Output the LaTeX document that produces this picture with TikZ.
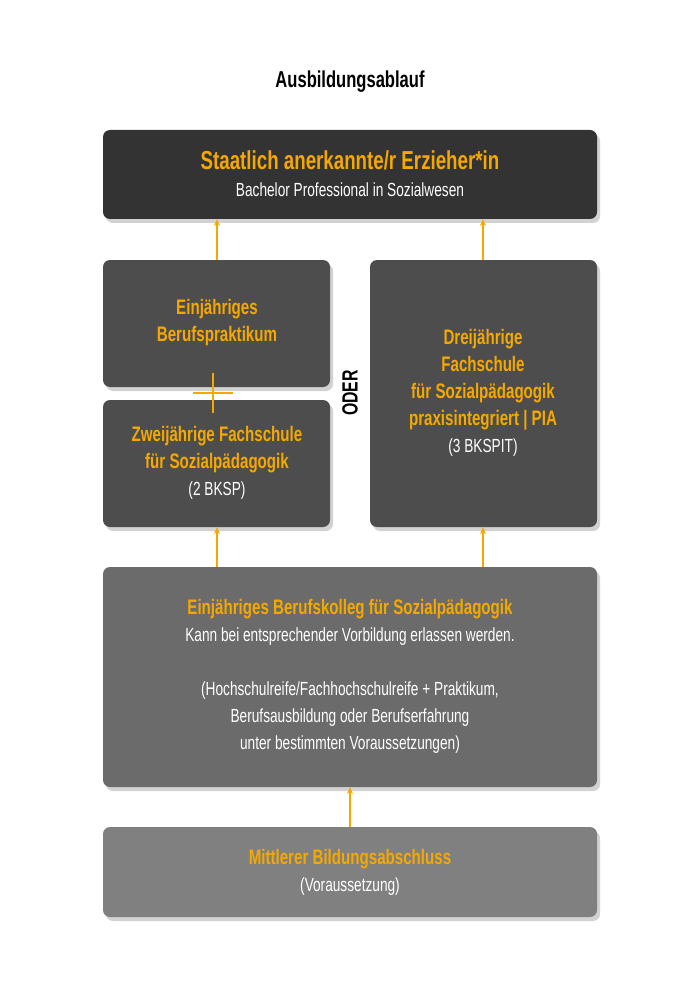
\documentclass[tikz,border=0pt]{standalone}
\usepackage{fontspec}
\setmainfont[FakeStretch=0.72]{Liberation Sans}
\usetikzlibrary{shadows,arrows.meta}
\definecolor{ylw}{HTML}{F5A800}
\newcommand{\hb}[1]{{\fontsize{21}{29}\selectfont\bfseries\color{ylw}#1}}
\tikzset{
  box/.style={rounded corners=7pt,draw=none,
    drop shadow={shadow xshift=3pt,shadow yshift=-4pt,opacity=0.35}},
  txt/.style={align=center,text=white},
  arr/.style={draw=ylw,line width=1.2pt,-{Stealth[length=7pt,width=6pt]}}
}
\begin{document}
\begin{tikzpicture}[x=1pt,y=-1pt,font=\fontsize{19}{27}\selectfont]
\useasboundingbox[fill=white] (0,0) rectangle (700,1000);
\node (h) at (350,82) {\fontsize{23}{27}\selectfont\bfseries Ausbildungsablauf};
\fill[box,fill={rgb,255:red,51;green,51;blue,51}] (103,130) rectangle (597,219);
\fill[box,fill={rgb,255:red,77;green,77;blue,77}] (103,260) rectangle (330,387);
\fill[box,fill={rgb,255:red,77;green,77;blue,77}] (103,400) rectangle (330,527);
\fill[box,fill={rgb,255:red,77;green,77;blue,77}] (370,260) rectangle (597,527);
\fill[box,fill={rgb,255:red,107;green,107;blue,107}] (103,567) rectangle (597,787);
\fill[box,fill={rgb,255:red,128;green,128;blue,128}] (103,827) rectangle (597,917);
\node (t) at (350,174) [txt]{{\fontsize{26}{32}\selectfont\bfseries\color{ylw}Staatlich anerkannte/r Erzieher*in}\\Bachelor Professional in Sozialwesen};
\node (lu) at (217,323) [txt]{\hb{Einjähriges}\\\hb{Berufspraktikum}};
\node (ll) at (217,463) [txt]{\hb{Zweijährige Fachschule}\\\hb{für Sozialpädagogik}\\(2 BKSP)};
\node (r) at (483,393) [txt]{\hb{Dreijährige}\\\hb{Fachschule}\\\hb{für Sozialpädagogik}\\\hb{praxisintegriert | PIA}\\(3 BKSPIT)};
\node (oder) at (350,393) [rotate=90,font=\fontsize{22}{26}\selectfont\bfseries]{ODER};
\node (m) at (350,676) [txt]{\hb{Einjähriges Berufskolleg für Sozialpädagogik}\\Kann bei entsprechender Vorbildung erlassen werden.\\[27pt](Hochschulreife/Fachhochschulreife + Praktikum,\\Berufsausbildung oder Berufserfahrung\\unter bestimmten Voraussetzungen)};
\node (b) at (350,872) [txt]{\hb{Mittlerer Bildungsabschluss}\\(Voraussetzung)};
\coordinate (tl) at (217,219); \coordinate (tr) at (483,219);
\coordinate (a1s) at (217,260); \coordinate (a2s) at (483,260);
\coordinate (a3s) at (217,567); \coordinate (a3e) at (217,527);
\coordinate (a4s) at (483,567); \coordinate (a4e) at (483,527);
\coordinate (a5s) at (350,827); \coordinate (a5e) at (350,787);
\draw[arr] (a1s) -- (tl);
\draw[arr] (a2s) -- (tr);
\draw[arr] (a3s) -- (a3e);
\draw[arr] (a4s) -- (a4e);
\draw[arr] (a5s) -- (a5e);
\coordinate (c1) at (213,373); \coordinate (c2) at (213,413);
\coordinate (c3) at (193,393); \coordinate (c4) at (233,393);
\draw[ylw,line width=1.2pt] (c1) -- (c2) (c3) -- (c4);
\end{tikzpicture}
\end{document}
